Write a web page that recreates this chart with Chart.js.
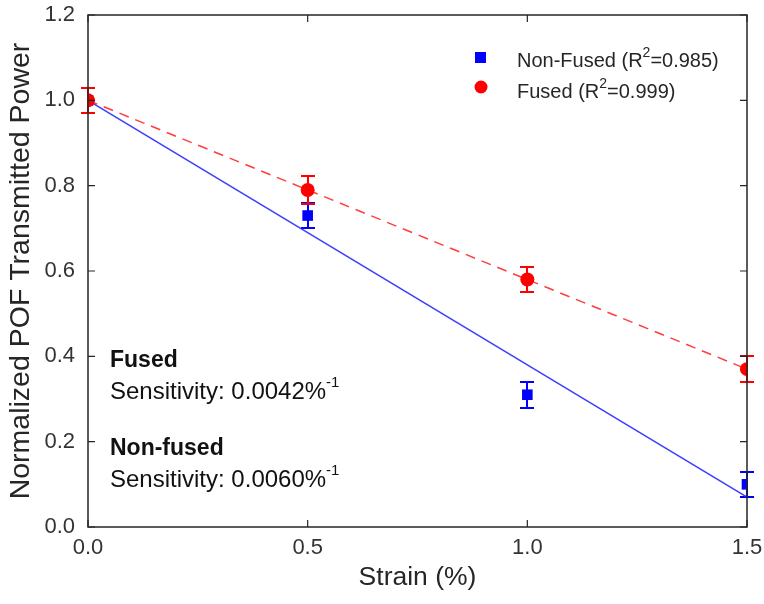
<!DOCTYPE html>
<html><head><meta charset="utf-8">
<script src="https://cdn.jsdelivr.net/npm/chart.js@4/dist/chart.umd.min.js"></script>
<style>html,body{margin:0;padding:0;background:#fff}#wrap{width:764px;height:604px}</style>
</head><body><div id="wrap"><canvas id="c" width="764" height="604"></canvas></div>
<script>
// ---- data ----
const strain = [0, 0.5, 1.0, 1.5];
const fusedPower = [1.0, 0.79, 0.58, 0.37];
const fusedErr = [0.03, 0.032, 0.03, 0.03];
const nonFusedPower = [1.0, 0.73, 0.31, 0.10];
const nonFusedErr = [0.03, 0.03, 0.03, 0.03];
const fitStrain = [0, 1.5];
const fusedFit = [1.0, 0.37];
const nonFusedFit = [1.0, 0.07];
const xTicks = [0, 0.5, 1.0, 1.5];
const yTicks = [0, 0.2, 0.4, 0.6, 0.8, 1.0, 1.2];
const legendLabels = [["Non-Fused (R", "2", "=0.985)"], ["Fused (R", "2", "=0.999)"]];
const notes = [
  {title: "Fused", text: "Sensitivity: 0.0042%", sup: "-1"},
  {title: "Non-fused", text: "Sensitivity: 0.0060%", sup: "-1"}
];

const FONT = "'Liberation Sans', Arial, Helvetica, sans-serif";
const BLUE = "#0000ff", RED = "#ff0000";
const AXIS = "#262626";

function pts(xs, ys) { return xs.map((x, i) => ({x: x, y: ys[i]})); }

const decor = {
  id: 'decor',
  beforeDatasetsDraw(chart) {
    const ctx = chart.ctx, xs = chart.scales.x, ys = chart.scales.y;
    const drawErr = (vals, errs, color) => {
      ctx.save();
      ctx.strokeStyle = color; ctx.lineWidth = 2;
      vals.forEach((v, i) => {
        const px = Math.round(xs.getPixelForValue(strain[i]));
        const y1 = Math.round(ys.getPixelForValue(v + errs[i]));
        const y2 = Math.round(ys.getPixelForValue(v - errs[i]));
        ctx.beginPath();
        ctx.moveTo(px, y1); ctx.lineTo(px, y2);
        ctx.moveTo(px - 7, y1); ctx.lineTo(px + 7, y1);
        ctx.moveTo(px - 7, y2); ctx.lineTo(px + 7, y2);
        ctx.stroke();
      });
      ctx.restore();
    };
    drawErr(nonFusedPower, nonFusedErr, BLUE);
    drawErr(fusedPower, fusedErr, RED);
  },
  afterDraw(chart) {
    const ctx = chart.ctx, a = chart.chartArea, xs = chart.scales.x, ys = chart.scales.y;
    ctx.save();
    // box
    ctx.strokeStyle = AXIS; ctx.lineWidth = 1.5;
    ctx.strokeRect(a.left, a.top, a.right - a.left, a.bottom - a.top);
    // inward ticks
    ctx.beginPath();
    xTicks.forEach(v => {
      const p = xs.getPixelForValue(v);
      ctx.moveTo(p, a.bottom); ctx.lineTo(p, a.bottom - 7);
      ctx.moveTo(p, a.top); ctx.lineTo(p, a.top + 7);
    });
    yTicks.forEach(v => {
      const p = ys.getPixelForValue(v);
      ctx.moveTo(a.left, p); ctx.lineTo(a.left + 7, p);
      ctx.moveTo(a.right, p); ctx.lineTo(a.right - 7, p);
    });
    ctx.lineWidth = 1.2;
    ctx.stroke();

    // rich text helper
    const rich = (x, y, parts) => {
      let cx = x;
      parts.forEach(p => {
        ctx.font = p.font;
        ctx.fillText(p.t, cx, y + (p.dy || 0));
        cx += ctx.measureText(p.t).width;
      });
    };

    // legend
    ctx.textBaseline = 'alphabetic';
    ctx.textAlign = 'left';
    ctx.fillStyle = BLUE;
    ctx.fillRect(475, 52, 11, 11);
    ctx.fillStyle = RED;
    ctx.beginPath(); ctx.arc(481, 87, 6.5, 0, Math.PI * 2); ctx.fill();
    ctx.fillStyle = AXIS;
    const lf = "20px " + FONT, sf = "14px " + FONT;
    rich(517, 67, [{t: legendLabels[0][0], font: lf}, {t: legendLabels[0][1], font: sf, dy: -10}, {t: legendLabels[0][2], font: lf}]);
    rich(517, 98, [{t: legendLabels[1][0], font: lf}, {t: legendLabels[1][1], font: sf, dy: -10}, {t: legendLabels[1][2], font: lf}]);

    // annotations
    ctx.fillStyle = "#111111";
    const bf = "bold 23px " + FONT, nf = "24px " + FONT, supf = "15px " + FONT;
    const baseY = [367, 455];
    notes.forEach((n, i) => {
      ctx.font = bf; ctx.fillText(n.title, 110, baseY[i]);
      rich(110, baseY[i] + 32, [{t: n.text, font: nf}, {t: n.sup, font: supf, dy: -12}]);
    });
    ctx.restore();
  }
};

new Chart(document.getElementById('c'), {
  type: 'scatter',
  data: {
    datasets: [
      {label: 'Fused', data: pts(strain, fusedPower), pointStyle: 'circle', pointRadius: 7,
       backgroundColor: RED, borderColor: RED, borderWidth: 0, order: 0},
      {label: 'Non-Fused', data: pts(strain, nonFusedPower), pointStyle: 'rect', pointRadius: 7.5,
       backgroundColor: BLUE, borderColor: BLUE, borderWidth: 0, order: 1},
      {label: 'Fused fit', data: pts(fitStrain, fusedFit), showLine: true, pointRadius: 0,
       borderColor: 'rgba(255,40,40,0.9)', borderWidth: 1.5, borderDash: [10, 7], order: 2},
      {label: 'Non-Fused fit', data: pts(fitStrain, nonFusedFit), showLine: true, pointRadius: 0,
       borderColor: 'rgba(40,40,255,0.9)', borderWidth: 1.5, order: 3}
    ]
  },
  options: {
    responsive: false, animation: false, devicePixelRatio: 1,
    layout: {padding: {left: 0, right: 17, top: 15, bottom: 0}},
    plugins: {legend: {display: false}, tooltip: {enabled: false}},
    scales: {
      x: {
        type: 'linear', min: 0, max: 1.5,
        afterFit(s) { s.height = 77; s.paddingLeft = 0; s.paddingRight = 0; },
        afterBuildTicks(s) { s.ticks = xTicks.map(v => ({value: v})); },
        grid: {display: false, drawTicks: false},
        border: {display: false},
        ticks: {padding: 8, color: '#333333', font: {family: FONT, size: 22},
                callback: v => v.toFixed(1), maxRotation: 0},
        title: {display: true, text: 'Strain (%)', color: AXIS,
                font: {family: FONT, size: 26.5}, padding: {top: 0, bottom: 10}}
      },
      y: {
        type: 'linear', min: 0, max: 1.2,
        afterFit(s) { s.width = 88; s.paddingTop = 0; s.paddingBottom = 0; },
        afterBuildTicks(s) { s.ticks = yTicks.map(v => ({value: v})); },
        grid: {display: false, drawTicks: false},
        border: {display: false},
        ticks: {padding: 13, color: '#333333', font: {family: FONT, size: 22},
                callback: v => v.toFixed(1)},
        title: {display: true, text: 'Normalized POF Transmitted Power', color: AXIS,
                font: {family: FONT, size: 28.5}, padding: {top: 4, bottom: 0}}
      }
    }
  },
  plugins: [decor]
});
</script></body></html>
